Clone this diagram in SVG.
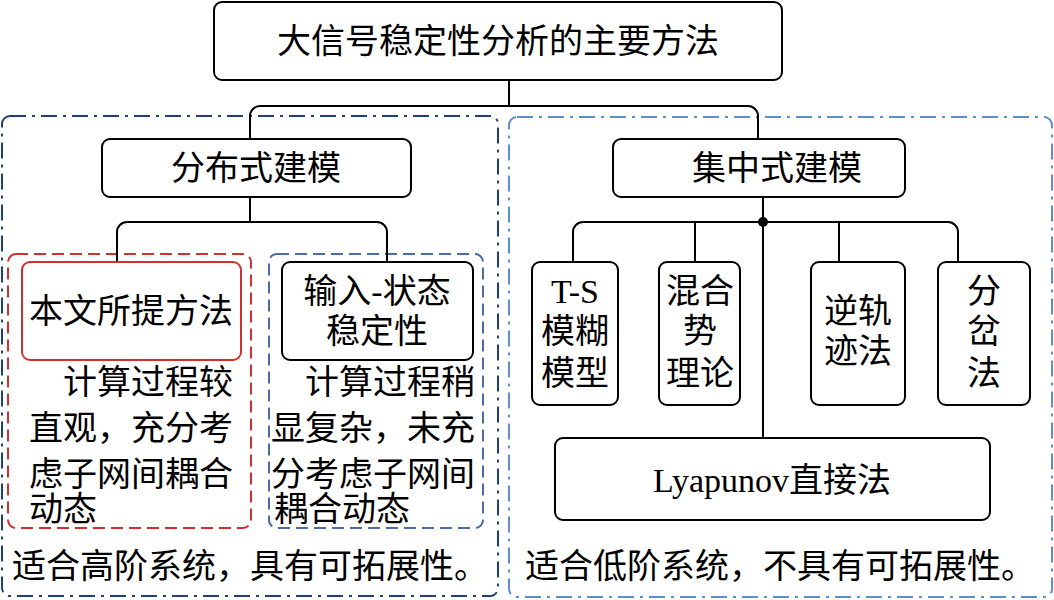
<svg xmlns="http://www.w3.org/2000/svg" width="1054" height="600" viewBox="0 0 1054 600">
<style>
text{font-family:"Liberation Serif","Noto Sans CJK SC",serif;font-size:34px;fill:#000;text-anchor:middle}
.n{fill:#fff;stroke:#000;stroke-width:2}
.c{fill:none;stroke:#000;stroke-width:2}
</style>
<rect width="1054" height="600" fill="#fff"/>
<rect x="2" y="116" width="496" height="480" rx="8" fill="none" stroke="#1f3f7a" stroke-width="2" stroke-dasharray="16,6,3,6"/>
<rect x="509" y="117" width="543" height="480" rx="8" fill="none" stroke="#5b8fd0" stroke-width="2" stroke-dasharray="16,6,3,6"/>
<rect x="8" y="254" width="243" height="274" rx="8" fill="none" stroke="#d03030" stroke-width="2" stroke-dasharray="12,6"/>
<rect x="269" y="254" width="214" height="274" rx="8" fill="none" stroke="#4a6aa8" stroke-width="2" stroke-dasharray="12,6"/>
<g id="connectors">
<path class="c" d="M509 80V106M250 139V116a10 10 0 0 1 10-10H748a10 10 0 0 1 10 10V139"/>
<path class="c" d="M250 197V222M117 262V232a10 10 0 0 1 10-10H377a10 10 0 0 1 10 10V262"/>
<path class="c" d="M763 197V438M573 262V232a10 10 0 0 1 10-10H948a10 10 0 0 1 10 10V262M695 222V262M839 222V262"/>
<circle cx="763" cy="222" r="5" fill="#000"/>
</g>
<g id="top"><rect class="n" x="214" y="2" width="568" height="78" rx="8"/><text x="498" y="53">大信号稳定性分析的主要方法</text></g>
<g id="dist"><rect class="n" x="102" y="139" width="309" height="58" rx="8"/><text x="256" y="180">分布式建模</text></g>
<g id="lump"><rect class="n" x="613" y="139" width="292" height="58" rx="8"/><text x="777" y="180">集中式建模</text></g>
<g id="ours"><rect x="22" y="262" width="219" height="98" rx="8" fill="#fff" stroke="#d03030" stroke-width="2"/><text x="131" y="323">本文所提方法</text>
<text x="148" y="394">计算过程较</text><text x="131" y="440">直观，充分考</text><text x="131" y="486">虑子网间耦合</text><text x="63" y="521">动态</text></g>
<g id="iss"><rect class="n" x="282" y="262" width="191" height="98" rx="8"/><text x="377" y="303">输入-状态</text><text x="377" y="343">稳定性</text>
<text x="390" y="394">计算过程稍</text><text x="373" y="440">显复杂，未充</text><text x="373" y="486">分考虑子网间</text><text x="342" y="521">耦合动态</text></g>
<g id="ts"><rect class="n" x="532" y="262" width="86" height="143" rx="8"/><text x="575" y="303">T-S</text><text x="575" y="343">模糊</text><text x="575" y="385">模型</text></g>
<g id="mix"><rect class="n" x="659" y="262" width="81" height="143" rx="8"/><text x="700" y="303">混合</text><text x="700" y="343">势</text><text x="700" y="385">理论</text></g>
<g id="rev"><rect class="n" x="811" y="262" width="94" height="143" rx="8"/><text x="858" y="323">逆轨</text><text x="858" y="363">迹法</text></g>
<g id="bif"><rect class="n" x="938" y="262" width="92" height="143" rx="8"/><text x="984" y="303">分</text><text x="984" y="343">岔</text><text x="984" y="385">法</text></g>
<g id="lya"><rect class="n" x="555" y="438" width="435" height="82" rx="8"/><text x="772" y="492">Lyapunov直接法</text></g>
<text x="250" y="578">适合高阶系统，具有可拓展性。</text>
<text x="780" y="578">适合低阶系统，不具有可拓展性。</text>
</svg>
